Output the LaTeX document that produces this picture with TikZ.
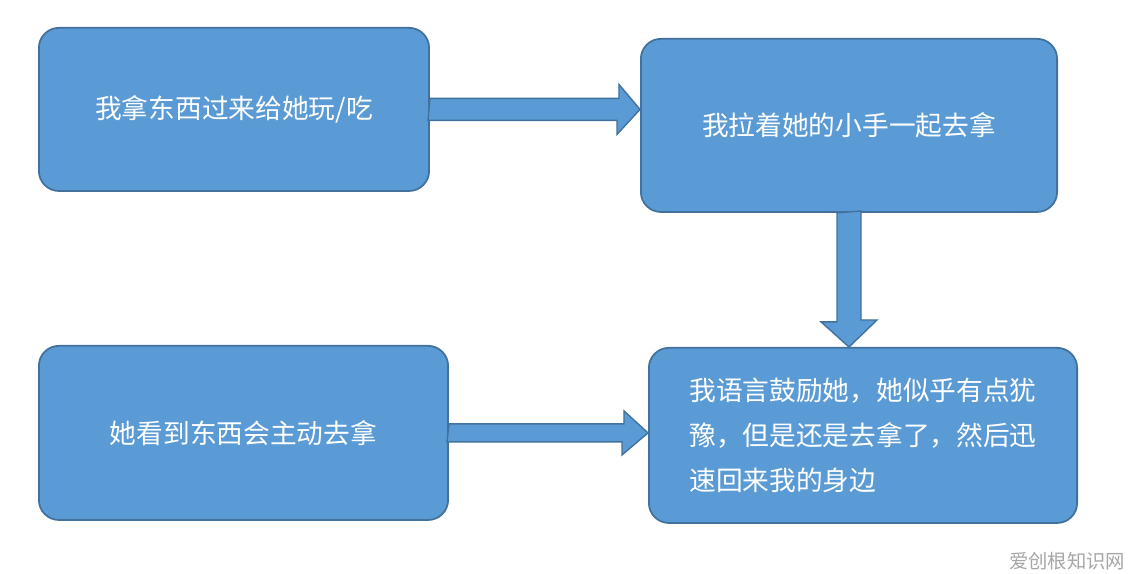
\documentclass[tikz,border=0pt]{standalone}
\usepackage{fontspec}
\newfontfamily\cjk{Noto Sans CJK SC}
\usetikzlibrary{calc}
\definecolor{boxfill}{HTML}{5B9BD5}
\definecolor{boxline}{HTML}{41719C}
\begin{document}
\begin{tikzpicture}[x=0.01cm, y=-0.01cm,
        step box/.style={draw=boxline, fill=boxfill, line width=0.5pt, rounded corners=0.2cm,
            anchor=north west, inner sep=0pt, text=white, font=\cjk\fontsize{7.6}{12.8}\selectfont, align=left},
        block/.style={draw=boxline, fill=boxfill, line width=0.4pt, line join=miter}]
    \useasboundingbox (0,0) rectangle (1132,574);
    \node[step box, minimum width=3.9cm, minimum height=1.63cm] (grab) at (38,27) {我拿东西过来给她玩/吃};
    \node[step box, minimum width=4.16cm, minimum height=1.73cm] (lead) at (640,38) {我拉着她的小手一起去拿};
    \node[step box, minimum width=4.09cm, minimum height=1.74cm] (self) at (38,345) {她看到东西会主动去拿};
    \node[step box, minimum width=4.28cm, minimum height=1.75cm] (talk) at (648,347)
        {我语言鼓励她，她似乎有点犹\\豫，但是还是去拿了，然后迅\\速回来我的身边};
    % block arrows
    \draw[block] ($(grab.east)+(0,-11)$) -- ++(189,0) -- ++(0,-14) -- ($(lead.west |- grab.east)$)
        -- ++(-23,25) -- ++(0,-14) -- ++(-189,0) -- cycle;
    \draw[block] ($(lead.south)+(-12,0)$) -- ++(0,109) -- ++(-16,0) -- (lead.south |- talk.north)
        -- ++(28,-27) -- ++(-16,0) -- ++(0,-109) -- cycle;
    \draw[block] ($(self.east)+(0,-9)$) -- ++(175,0) -- ++(0,-13) -- ($(talk.west |- self.east)$)
        -- ++(-26,22) -- ++(0,-13) -- ++(-175,0) -- cycle;
    \node[text=gray!70, font=\cjk\fontsize{5.5}{7}\selectfont, anchor=east, inner sep=0pt] (mark) at (1126,561) {爱创根知识网};
\end{tikzpicture}
\end{document}
